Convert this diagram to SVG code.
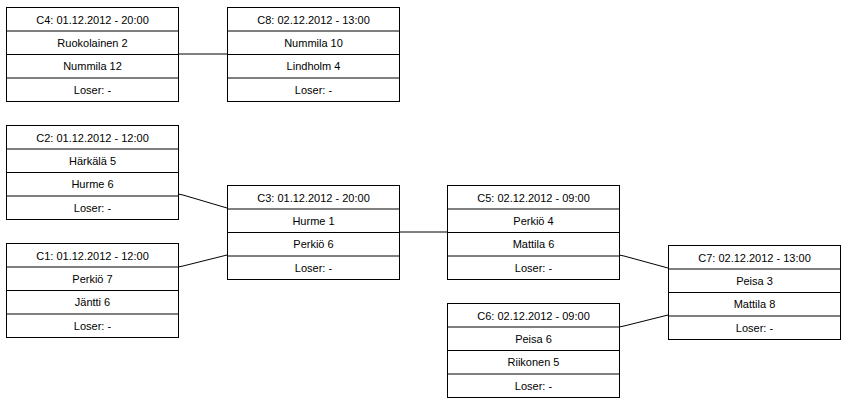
<svg xmlns="http://www.w3.org/2000/svg" width="846" height="403" viewBox="0 0 846 403">
<style>
rect{fill:#fff;stroke:#000;stroke-width:1}
line.s{stroke:#000;stroke-width:1}
text{font-family:"Liberation Sans",Arial,sans-serif;font-size:11px;text-anchor:middle;fill:#000}
.c polyline{fill:none;stroke:#000;stroke-width:1}
</style>
<rect x="0" y="0" width="846" height="403" style="stroke:none"/>
<g class="c">
<polyline points="178,54 227,54"/>
<polyline points="178,194 183,195 227,208"/>
<polyline points="178,267 183,266 227,255"/>
<polyline points="399,232 447,232"/>
<polyline points="619,255 624,256 668,268"/>
<polyline points="619,327 624,326 668,315"/>
</g>
<g id="C4" transform="translate(6.5,7.5)"><rect width="172" height="94"/><line class="s" x1="0" y1="23.5" x2="172" y2="23.5"/><line class="s" x1="0" y1="47" x2="172" y2="47"/><line class="s" x1="0" y1="70.5" x2="172" y2="70.5"/><text x="86" y="16">C4: 01.12.2012 - 20:00</text><text x="86" y="39">Ruokolainen 2</text><text x="86" y="62.5">Nummila 12</text><text x="86" y="86">Loser: -</text></g>
<g id="C8" transform="translate(227.5,7.5)"><rect width="172" height="94"/><line class="s" x1="0" y1="23.5" x2="172" y2="23.5"/><line class="s" x1="0" y1="47" x2="172" y2="47"/><line class="s" x1="0" y1="70.5" x2="172" y2="70.5"/><text x="86" y="16">C8: 02.12.2012 - 13:00</text><text x="86" y="39">Nummila 10</text><text x="86" y="62.5">Lindholm 4</text><text x="86" y="86">Loser: -</text></g>
<g id="C2" transform="translate(6.5,125.5)"><rect width="172" height="94"/><line class="s" x1="0" y1="23.5" x2="172" y2="23.5"/><line class="s" x1="0" y1="47" x2="172" y2="47"/><line class="s" x1="0" y1="70.5" x2="172" y2="70.5"/><text x="86" y="16">C2: 01.12.2012 - 12:00</text><text x="86" y="39">Härkälä 5</text><text x="86" y="62.5">Hurme 6</text><text x="86" y="86">Loser: -</text></g>
<g id="C1" transform="translate(6.5,243.5)"><rect width="172" height="94"/><line class="s" x1="0" y1="23.5" x2="172" y2="23.5"/><line class="s" x1="0" y1="47" x2="172" y2="47"/><line class="s" x1="0" y1="70.5" x2="172" y2="70.5"/><text x="86" y="16">C1: 01.12.2012 - 12:00</text><text x="86" y="39">Perkiö 7</text><text x="86" y="62.5">Jäntti 6</text><text x="86" y="86">Loser: -</text></g>
<g id="C3" transform="translate(227.5,185.5)"><rect width="172" height="94"/><line class="s" x1="0" y1="23.5" x2="172" y2="23.5"/><line class="s" x1="0" y1="47" x2="172" y2="47"/><line class="s" x1="0" y1="70.5" x2="172" y2="70.5"/><text x="86" y="16">C3: 01.12.2012 - 20:00</text><text x="86" y="39">Hurme 1</text><text x="86" y="62.5">Perkiö 6</text><text x="86" y="86">Loser: -</text></g>
<g id="C5" transform="translate(447.5,185.5)"><rect width="172" height="94"/><line class="s" x1="0" y1="23.5" x2="172" y2="23.5"/><line class="s" x1="0" y1="47" x2="172" y2="47"/><line class="s" x1="0" y1="70.5" x2="172" y2="70.5"/><text x="86" y="16">C5: 02.12.2012 - 09:00</text><text x="86" y="39">Perkiö 4</text><text x="86" y="62.5">Mattila 6</text><text x="86" y="86">Loser: -</text></g>
<g id="C6" transform="translate(447.5,303.5)"><rect width="172" height="94"/><line class="s" x1="0" y1="23.5" x2="172" y2="23.5"/><line class="s" x1="0" y1="47" x2="172" y2="47"/><line class="s" x1="0" y1="70.5" x2="172" y2="70.5"/><text x="86" y="16">C6: 02.12.2012 - 09:00</text><text x="86" y="39">Peisa 6</text><text x="86" y="62.5">Riikonen 5</text><text x="86" y="86">Loser: -</text></g>
<g id="C7" transform="translate(668.5,245.5)"><rect width="172" height="94"/><line class="s" x1="0" y1="23.5" x2="172" y2="23.5"/><line class="s" x1="0" y1="47" x2="172" y2="47"/><line class="s" x1="0" y1="70.5" x2="172" y2="70.5"/><text x="86" y="16">C7: 02.12.2012 - 13:00</text><text x="86" y="39">Peisa 3</text><text x="86" y="62.5">Mattila 8</text><text x="86" y="86">Loser: -</text></g>
</svg>
